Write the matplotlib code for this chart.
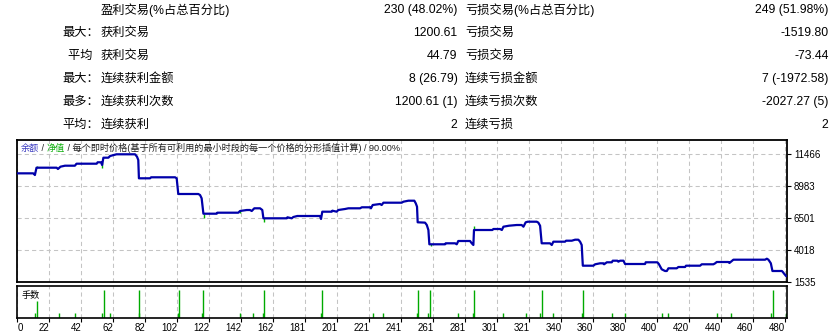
import matplotlib.pyplot as plt

plt.rcParams['font.family'] = ['Liberation Sans', 'Noto Sans CJK SC']

# 统计表
row_prefix = ['', '最大：', '平均  ', '最大：', '最多：', '平均：']
win_labels = ['盈利交易(%占总百分比)', '获利交易', '获利交易', '连续获利金额', '连续获利次数', '连续获利']
win_values = ['230 (48.02%)', '1200.61', '44.79', '8 (26.79)', '1200.61 (1)', '2']
loss_labels = ['亏损交易(%占总百分比)', '亏损交易', '亏损交易', '连续亏损金额', '连续亏损次数', '连续亏损']
loss_values = ['249 (51.98%)', '-1519.80', '-73.44', '7 (-1972.58)', '-2027.27 (5)', '2']

# 余额曲线 (交易序号, 余额)
bal_x = [0, 10, 11, 12, 24.6, 25.4, 27, 29.8, 36, 37,
         49.6, 50.2, 52.3, 53, 53.8, 56.9, 58, 62, 73.6, 74.8,
         75.6, 76, 83, 83.6, 98.6, 99.6, 100.6, 113.1, 114.2, 115.2,
         116.3, 124.6, 125, 138.1, 139.2, 143.4, 145.4, 146.5, 148.1, 151.7,
         153.1, 153.8, 168.4, 168.8, 171.5, 172.5, 175, 189.2, 189.8, 190.6,
         196.5, 196.9, 199.6, 200.6, 204.8, 206.9, 214.2, 215.3, 220.4, 221,
         222.1, 226.7, 227.7, 228.8, 240.2, 241.3, 244.4, 248.1, 249, 249.8,
         250.2, 254.8, 255.9, 256.9, 257.5, 267.3, 267.7, 273.6, 274.6, 275.6,
         282.9, 284, 285, 285.4, 296.9, 297.5, 301.7, 302.8, 303.8, 307.3,
         312.1, 315.2, 316.3, 317.7, 319, 324.6, 325.6, 326.7, 327.7, 332.9,
         334, 335, 342.3, 342.9, 346.5, 348.6, 350.6, 351.7, 352.7, 353.4,
         360, 361.1, 364.2, 366.3, 366.7, 368.4, 371.5, 372.1, 375, 375.6,
         376.7, 378.8, 379.8, 392.3, 392.7, 400, 400.9, 402.7, 404.8, 405.9,
         406.9, 412.1, 413.1, 417.3, 417.9, 426.7, 427.7, 435, 436.1, 437.1,
         444.4, 445, 446.5, 447.5, 467.3, 468.4, 469.4, 470.9, 471.9, 477.8,
         478.4, 479.2, 480.4]
bal_y = [9990, 9990, 9860, 10428, 10428, 10327, 10506, 10583, 10583, 10738,
         10738, 10847, 10847, 10637, 11204, 11204, 11336, 11468, 11468, 11282,
         11025, 9605, 9605, 9683, 9683, 9605, 8387, 8387, 8309, 8053,
         6858, 6858, 6936, 6936, 7068, 7145, 7145, 7068, 7277, 7277,
         7145, 6501, 6501, 6579, 6501, 6602, 6680, 6680, 6447, 7014,
         7014, 7091, 7014, 7145, 7223, 7277, 7277, 7355, 7355, 7277,
         7533, 7611, 7533, 7712, 7712, 7790, 7867, 7867, 7665, 7402,
         6191, 6165, 5981, 5593, 4484, 4484, 4561, 4561, 4484, 4740,
         4740, 4561, 4430, 5593, 5593, 5671, 5671, 5593, 5850, 5927,
         5981, 5981, 5850, 6191, 6237, 6237, 6165, 5927, 4561, 4561,
         4430, 4686, 4686, 4763, 4763, 4841, 4841, 4686, 4430, 2823,
         2823, 2932, 3009, 3009, 2932, 3087, 3087, 3211, 3211, 3134,
         3211, 3211, 2955, 2955, 3087, 3087, 2955, 2544, 2412, 2412,
         2621, 2621, 2722, 2722, 2823, 2823, 2932, 2932, 3009, 3110,
         3110, 3033, 3188, 3289, 3289, 3366, 3289, 3009, 2412, 2412,
         2334, 2203, 2024]

# 净值偏离 (交易序号, 起点, 终点)
eq_x = [12, 53, 116.5, 139, 154, 258.6, 275.5, 285.4]
eq_from = [10428, 10847, 6858, 6936, 6501, 4484, 4740, 5593]
eq_to = [10560, 10428, 6501, 7040, 6237, 4380, 4840, 5904]

# 手数
lot_x = [11.3, 12.5, 26.3, 36.3, 53.1, 54.4, 58.1, 75.8, 76.3, 100.6,
         101.3, 115.6, 116.3, 139.4, 147.5, 153.8, 154.4, 190, 190.6, 222.5,
         228.8, 250, 250.6, 256.9, 258.1, 275.6, 285, 285.6, 303.8, 318.1,
         326.9, 328.1, 335, 353.1, 353.8, 371.9, 380, 403.1, 406.9, 437.5,
         446.3, 471.3, 472.5, 480.6]
lot_v = [0.01, 0.03, 0.01, 0.01, 0.01, 0.05, 0.01, 0.01, 0.05, 0.01,
         0.05, 0.01, 0.05, 0.01, 0.01, 0.01, 0.05, 0.01, 0.05, 0.01,
         0.01, 0.01, 0.05, 0.01, 0.05, 0.01, 0.01, 0.05, 0.01, 0.01,
         0.01, 0.05, 0.01, 0.01, 0.05, 0.01, 0.01, 0.01, 0.01, 0.01,
         0.01, 0.01, 0.05, 0.01]

x_ticks = list(range(0, 481, 20))
x_labels = ['0', '22', '42', '62', '82', '102', '122', '142', '162', '181', '201', '221', '241',
            '261', '281', '301', '321', '340', '360', '380', '400', '420', '440', '460', '480']
y_ticks = [1535, 4018, 6501, 8983, 11466]

W, H = 838, 332
fig = plt.figure(figsize=(W / 100, H / 100), dpi=100)


def fx(px):
    return px / W


def fy(py):
    return 1 - py / H


# 表格
fs = 8.8
row_y = [10, 33, 56, 79, 101.5, 124.5]
for i, y in enumerate(row_y):
    fig.text(fx(99), fy(y), row_prefix[i], ha='right', va='center', fontsize=fs)
    fig.text(fx(101), fy(y), win_labels[i], ha='left', va='center', fontsize=fs)
    fig.text(fx(457.5), fy(y), win_values[i], ha='right', va='center', fontsize=fs)
    fig.text(fx(465), fy(y), loss_labels[i], ha='left', va='center', fontsize=fs)
    fig.text(fx(828.5), fy(y), loss_values[i], ha='right', va='center', fontsize=fs)

left, right = 17.3, 787
ax = fig.add_axes([fx(left), fy(282.3), (right - left) / W, (282.3 - 139.5) / H])
axl = fig.add_axes([fx(left), fy(318.3), (right - left) / W, (318.3 - 285.7) / H])

grid_kw = dict(color='#c4c4c4', linestyle=(0, (4, 3)), linewidth=0.75)

# 余额图
ax.vlines(eq_x, eq_from, eq_to, color='#00b000', lw=1.0, zorder=2)
ax.plot(bal_x, bal_y, color='#0000aa', lw=1.6, zorder=3)
ax.set_xlim(0, 481)
ax.set_ylim(1535, 12616)
ax.set_xticks(x_ticks)
ax.set_yticks(y_ticks)
ax.yaxis.tick_right()
ax.tick_params(axis='x', length=0, labelbottom=False)
ax.tick_params(axis='y', length=3, width=0.8, pad=2, labelsize=7)
ax.grid(True, **grid_kw)
ax.set_axisbelow(True)
for s in ax.spines.values():
    s.set_linewidth(1.3)

t = ax.text(0.0044, 0.938, '余额', transform=ax.transAxes, color='#3a3ac0',
            fontsize=6.6, va='center', ha='left')
for piece, col in [(' / ', '#202020'), ('净值', '#10b010'),
                   (' / 每个即时价格(基于所有可利用的最小时段的每一个价格的分形插值计算) / 90.00%', '#202020')]:
    t = ax.annotate(piece, xy=(1, 0.5), xycoords=t, va='center', ha='left',
                    color=col, fontsize=6.6)

# 手数图
axl.vlines(lot_x, 0, lot_v, color='#00aa00', lw=1.0)
axl.set_xlim(0, 481)
axl.set_ylim(0, 0.0568)
axl.set_yticks([])
axl.set_xticks(x_ticks, x_labels)
axl.tick_params(axis='x', length=3, width=0.8, pad=0.5, labelsize=7)
axl.grid(True, axis='x', **grid_kw)
axl.set_axisbelow(True)
for s in axl.spines.values():
    s.set_linewidth(1.2)
labels = axl.get_xticklabels()
for lbl in labels:
    lbl.set_ha('right')
labels[0].set_ha('left')
axl.text(0.0057, 0.705, '手数', transform=axl.transAxes, fontsize=6.6, va='center', ha='left')

fig.savefig('out.png', dpi=100)
